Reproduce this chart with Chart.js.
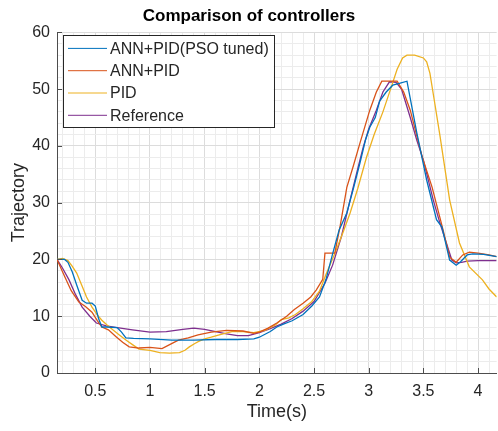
<!DOCTYPE html>
<html>
<head>
<meta charset="utf-8">
<script src="https://cdn.jsdelivr.net/npm/chart.js@4/dist/chart.umd.min.js"></script>
<style>
  html, body { margin: 0; padding: 0; background: #fff; }
  #wrap { width: 498px; height: 431px; }
</style>
</head>
<body>
<div id="wrap"><canvas id="chart" width="498" height="431"></canvas></div>
<script>
// series (time in s, trajectory value)
const psoTime = [0.15,0.22,0.25,0.29,0.33,0.38,0.42,0.47,0.5,0.53,0.56,0.6,0.7,0.74,0.78,0.85,1.0,1.2,1.4,1.6,1.8,1.95,2.0,2.1,2.16,2.22,2.3,2.4,2.48,2.55,2.61,2.67,2.73,2.8,2.86,2.92,2.97,3.01,3.06,3.1,3.16,3.22,3.28,3.35,3.44,3.53,3.62,3.67,3.74,3.8,3.84,3.9,3.95,4.05,4.17];
const psoValues = [20,20,19.5,17.8,15.5,12.8,12.3,12.3,11.8,9.6,8.1,8.1,8.0,7.2,6.2,6.1,6.0,5.8,5.8,5.9,5.9,6.0,6.3,7.3,8.1,8.6,9.2,10.3,11.8,13.4,16.5,21,25.2,28.2,32.5,37,41,43.3,45,47.9,49.5,50.7,51.0,51.4,42.3,34,27,25.7,19.9,19.0,19.6,20.8,21,20.9,20.5];

const annTime = [0.15,0.22,0.28,0.35,0.41,0.47,0.52,0.56,0.62,0.69,0.75,0.81,0.9,1.0,1.11,1.18,1.26,1.35,1.44,1.56,1.7,1.85,1.95,2.0,2.08,2.16,2.25,2.32,2.4,2.47,2.52,2.58,2.6,2.69,2.74,2.8,2.86,2.92,3.01,3.07,3.12,3.26,3.32,3.38,3.49,3.58,3.68,3.74,3.8,3.86,3.92,4.0,4.1,4.17];
const annValues = [20,17,14.5,12.5,11.7,10.7,9.2,8.1,7.6,6.4,5.4,4.6,4.4,4.5,4.3,5.0,5.8,6.2,6.7,7.2,7.5,7.4,7.0,7.2,7.9,8.8,10,11.2,12.3,13.4,14.6,16.5,21.1,21.1,26,32.7,36.5,40.5,46.3,49.5,51.4,51.4,49.5,46.3,38,32.7,25.2,20.4,19.5,20.8,21.3,21.1,20.8,20.5];

const pidTime = [0.15,0.2,0.25,0.29,0.33,0.38,0.42,0.47,0.52,0.56,0.61,0.66,0.72,0.78,0.84,0.9,1.0,1.09,1.18,1.27,1.32,1.36,1.41,1.45,1.5,1.56,1.65,1.75,1.85,1.95,2.05,2.15,2.2,2.27,2.33,2.4,2.48,2.55,2.61,2.7,2.77,2.83,2.9,2.98,3.05,3.13,3.2,3.26,3.31,3.35,3.42,3.5,3.53,3.56,3.6,3.65,3.74,3.83,3.92,4.04,4.1,4.17];
const pidValues = [20,20.2,19.8,18.8,17.6,15.3,13.4,11.6,10.2,9.3,8.4,7.6,6.7,5.8,5.0,4.2,4.0,3.6,3.5,3.6,4.0,4.6,5.2,5.6,6.0,6.3,6.8,7.3,7.3,7.1,7.5,8.5,9.4,9.7,10.3,11.3,12.6,14.4,17.4,21.5,25,28.2,32.5,38,42,46,50,53.5,55.5,56,56,55.5,54.8,52.8,48,42,30.5,22.9,18.7,16.4,14.8,13.4];

const refTime = [0.15,0.2,0.26,0.32,0.38,0.45,0.51,0.6,0.7,0.84,1.0,1.15,1.3,1.4,1.5,1.6,1.7,1.8,1.9,2.0,2.1,2.2,2.3,2.4,2.5,2.6,2.67,2.75,2.83,2.9,2.95,3.0,3.07,3.13,3.19,3.25,3.3,3.38,3.44,3.5,3.59,3.65,3.71,3.76,3.8,3.85,3.9,4.0,4.17];
const refValues = [20,18.5,16.4,13.8,11.6,10,8.8,8.3,8.0,7.6,7.2,7.3,7.7,7.9,7.7,7.3,6.9,6.6,6.6,7.1,7.8,8.6,9.6,10.9,12.6,15.8,19,24,30.5,36,39.8,43,46.3,49.5,51.3,51.2,50,45,41,37.5,30.5,26.5,22.9,19.9,19.4,19.5,19.7,19.8,19.8];

const seriesLabels = ['ANN+PID(PSO tuned)', 'ANN+PID', 'PID', 'Reference'];
const xTickLabels = [0.5, 1, 1.5, 2, 2.5, 3, 3.5, 4];
const yTickLabels = [0, 10, 20, 30, 40, 50, 60];

const FONT = '"Liberation Sans", Arial, Helvetica, sans-serif';
const INK = '#262626';

function toPoints(xs, ys) {
    return xs.map((x, i) => ({ x: x, y: ys[i] }));
}

function isMajor(v, step) {
    const r = v / step;
    return Math.abs(r - Math.round(r)) < 1e-6;
}

// legend drawn inside the plot, top-left, like the MATLAB one
const insideLegend = {
    id: 'insideLegend',
    afterDraw(chart) {
        const ctx = chart.ctx;
        const area = chart.chartArea;
        const sets = chart.data.datasets;
        ctx.save();
        ctx.font = '16px ' + FONT;
        let maxW = 0;
        sets.forEach(ds => { maxW = Math.max(maxW, ctx.measureText(ds.label).width); });
        const left = area.left + 6, top = area.top + 3;
        const rowH = 22.3;
        const w = 47 + maxW + 5, h = sets.length * rowH + 3;
        ctx.fillStyle = '#fff';
        ctx.fillRect(left, top, w, h);
        ctx.strokeStyle = INK;
        ctx.lineWidth = 1;
        ctx.strokeRect(Math.round(left) + 0.5, Math.round(top) + 0.5, Math.round(w), Math.round(h));
        sets.forEach((ds, i) => {
            const cy = top + 13 + i * rowH;
            ctx.strokeStyle = ds.borderColor;
            ctx.lineWidth = 1;
            ctx.beginPath();
            ctx.moveTo(left + 5, cy);
            ctx.lineTo(left + 44, cy);
            ctx.stroke();
            ctx.fillStyle = INK;
            ctx.textBaseline = 'middle';
            ctx.fillText(ds.label, left + 47, cy + 1);
        });
        ctx.restore();
    }
};

// short ticks pointing into the axes
const innerTicks = {
    id: 'innerTicks',
    afterDatasetsDraw(chart) {
        const ctx = chart.ctx;
        const a = chart.chartArea;
        const xs = chart.scales.x, ys = chart.scales.y;
        ctx.save();
        ctx.strokeStyle = '#4d4d4d';
        ctx.lineWidth = 1;
        ctx.beginPath();
        xTickLabels.forEach(v => {
            const px = Math.round(xs.getPixelForValue(v)) + 0.5;
            ctx.moveTo(px, a.bottom);
            ctx.lineTo(px, a.bottom - 5);
        });
        yTickLabels.forEach(v => {
            const py = Math.round(ys.getPixelForValue(v)) + 0.5;
            ctx.moveTo(a.left, py);
            ctx.lineTo(a.left + 5, py);
        });
        ctx.stroke();
        ctx.restore();
    }
};

const colors = ['#0072BD', '#D95319', '#EDB120', '#7E2F8E'];
const seriesData = [
    toPoints(psoTime, psoValues),
    toPoints(annTime, annValues),
    toPoints(pidTime, pidValues),
    toPoints(refTime, refValues)
];

const minorX = [];
for (let i = 2; i <= 41; i++) minorX.push(i / 10);
const minorY = [];
for (let i = 0; i <= 30; i++) minorY.push(i * 2);

new Chart(document.getElementById('chart'), {
    type: 'line',
    data: {
        datasets: seriesLabels.map((label, i) => ({
            label: label,
            data: seriesData[i],
            borderColor: colors[i],
            backgroundColor: colors[i],
            borderWidth: 1.3,
            pointRadius: 0,
            tension: 0,
            fill: false
        }))
    },
    options: {
        responsive: false,
        animation: false,
        layout: { padding: { left: 0, right: 0, top: 0, bottom: 0 } },
        plugins: {
            legend: { display: false },
            tooltip: { enabled: false },
            title: {
                display: true,
                text: 'Comparison of controllers',
                color: '#000',
                font: { family: FONT, size: 17, weight: 'bold' },
                padding: { top: 6, bottom: 6 }
            }
        },
        scales: {
            x: {
                type: 'linear',
                min: 0.15,
                max: 4.17,
                afterBuildTicks: scale => { scale.ticks = minorX.map(v => ({ value: v })); },
                afterFit: scale => { scale.height = 58; },
                ticks: {
                    autoSkip: false,
                    maxRotation: 0,
                    color: INK,
                    padding: 9,
                    font: { family: FONT, size: 16 },
                    callback: v => (isMajor(v, 0.5) ? String(v) : '')
                },
                grid: {
                    drawTicks: false,
                    color: ctx => (ctx.tick && isMajor(ctx.tick.value, 0.5) ? '#dcdcdc' : '#ececec'),
                    lineWidth: 1
                },
                border: { display: true, color: '#4d4d4d', width: 1 },
                title: {
                    display: true,
                    text: 'Time(s)',
                    color: INK,
                    font: { family: FONT, size: 18 },
                    padding: { top: 0, bottom: 8 }
                }
            },
            y: {
                type: 'linear',
                min: 0,
                max: 60,
                afterBuildTicks: scale => { scale.ticks = minorY.map(v => ({ value: v })); },
                afterFit: scale => { scale.width = 57; },
                ticks: {
                    autoSkip: false,
                    color: INK,
                    padding: 7,
                    font: { family: FONT, size: 16 },
                    callback: v => (isMajor(v, 10) ? String(v) : '')
                },
                grid: {
                    drawTicks: false,
                    color: ctx => (ctx.tick && isMajor(ctx.tick.value, 10) ? '#dcdcdc' : '#ececec'),
                    lineWidth: 1
                },
                border: { display: true, color: '#4d4d4d', width: 1 },
                title: {
                    display: true,
                    text: 'Trajectory',
                    color: INK,
                    font: { family: FONT, size: 18 },
                    padding: { top: 8, bottom: 0 }
                }
            }
        }
    },
    plugins: [innerTicks, insideLegend]
});
</script>
</body>
</html>
